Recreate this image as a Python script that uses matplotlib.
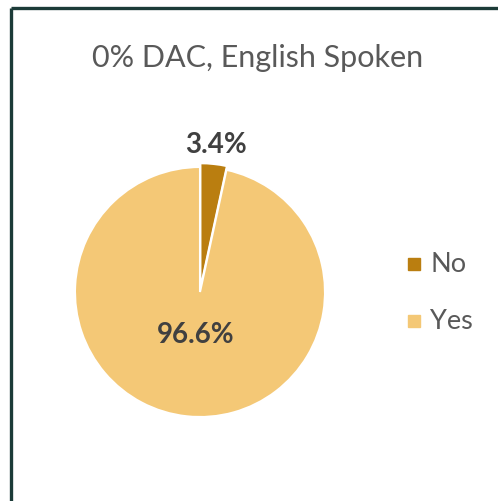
import matplotlib
matplotlib.use("Agg")
from matplotlib import pyplot as plt
from matplotlib.lines import Line2D
import numpy as np

plt.rcParams['font.family'] = ['Lato', 'DejaVu Sans']

labels = ['No', 'Yes']
shares = [3.4, 96.6]
colors = ['#BA7E10', '#F4C876']
title = '0% DAC, English Spoken'

W, H = 498, 502
fig = plt.figure(figsize=(W / 100, H / 100), dpi=100)
fig.patch.set_facecolor('white')

# frame (left and top edges only, the rest runs off the picture)
frame_col = '#1C3B38'
fig.add_artist(Line2D([11 / W, 11 / W], [0, 1 - 9 / H], transform=fig.transFigure,
                      color=frame_col, lw=2.4, solid_capstyle='butt'))
fig.add_artist(Line2D([11 / W, 1], [1 - 9 / H, 1 - 9 / H], transform=fig.transFigure,
                      color=frame_col, lw=2.4, solid_capstyle='butt'))

fig.text(258 / W, 1 - 58 / H, title, ha='center', va='center',
         fontsize=22, color='#595959')

# pie area: centre (200, 293) px, radius 125 px
cx, cy, r = 200, 293, 125
ax = fig.add_axes([(cx - r) / W, (H - cy - r) / H, 2 * r / W, 2 * r / H])
wedges, _ = ax.pie(shares, colors=colors, startangle=90, counterclock=False,
                   explode=[0.03, 0], radius=1,
                   wedgeprops=dict(edgecolor='white', linewidth=1.5))
ax.set_xlim(-1, 1)
ax.set_ylim(-1, 1)
ax.axis('off')

label_r = [1.19, 0.34]
for w, s, lr in zip(wedges, shares, label_r):
    mid = np.deg2rad((w.theta1 + w.theta2) / 2)
    ax.text(lr * np.cos(mid), lr * np.sin(mid), f'{s:.1f}%', ha='center', va='center',
            fontsize=20, fontweight='bold', color='#404040', clip_on=False)

# legend
for i, (lab, c) in enumerate(zip(labels, colors)):
    y = 1 - (265 + 57 * i) / H
    fig.patches.append(plt.Rectangle((408 / W, y - 6 / H), 12 / W, 12 / H,
                                     transform=fig.transFigure, color=c))
    fig.text(430 / W, y, lab, ha='left', va='center', fontsize=19.5, color='#595959')

fig.savefig('out.png', dpi=100, facecolor='white')
